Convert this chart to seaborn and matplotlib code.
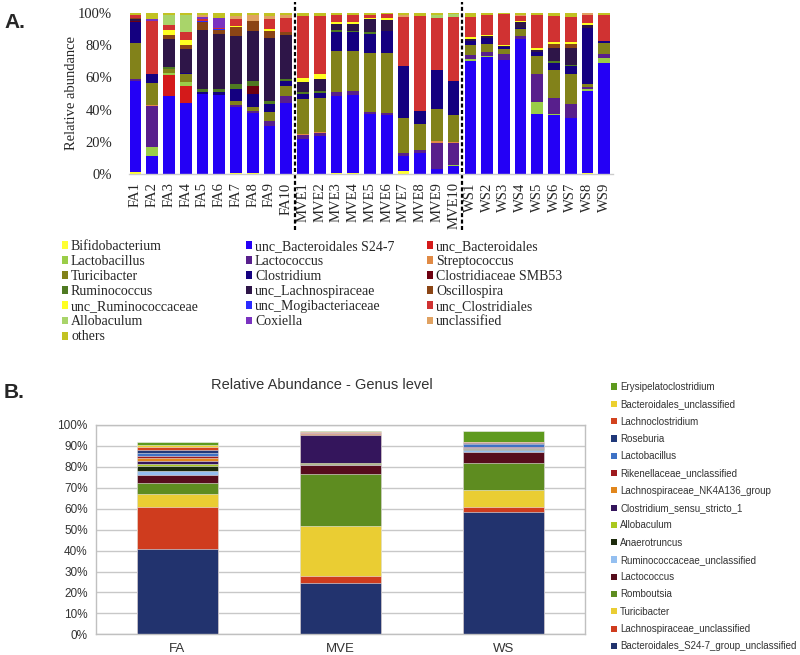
import numpy as np
import seaborn as sns
import matplotlib
matplotlib.use("Agg")
import matplotlib.pyplot as plt
from matplotlib.patches import Patch
from matplotlib.transforms import blended_transform_factory

# ---- panel A: relative abundance per sample (%), stacked bottom -> top
samples = ["FA1", "FA2", "FA3", "FA4", "FA5", "FA6", "FA7", "FA8", "FA9", "FA10",
           "MVE1", "MVE2", "MVE3", "MVE4", "MVE5", "MVE6", "MVE7", "MVE8", "MVE9", "MVE10",
           "WS1", "WS2", "WS3", "WS4", "WS5", "WS6", "WS7", "WS8", "WS9"]

taxa_a = ["Bifidobacterium", "unc_Bacteroidales S24-7", "unc_Bacteroidales",
          "Lactobacillus", "Lactococcus", "Streptococcus",
          "Turicibacter", "Clostridium", "Clostridiaceae SMB53",
          "Ruminococcus", "unc_Lachnospiraceae", "Oscillospira",
          "unc_Ruminococcaceae", "unc_Mogibacteriaceae", "unc_Clostridiales",
          "Allobaculum", "Coxiella", "unclassified",
          "others"]
colors_a = ["#ffff33", "#2400f5", "#d41a1a",
            "#9acd48", "#581f8c", "#e08a45",
            "#82821a", "#140080", "#6e0010",
            "#4f7a22", "#2e1548", "#8b4515",
            "#ffff22", "#2a2aff", "#d03232",
            "#a9d46a", "#7a32c0", "#e0a262",
            "#c2c222"]

bifido = [1, 0, 0.3, 0.3, 0, 0, 0.6, 0.5, 0, 0,
          0, 0, 0.5, 0.5, 0, 0, 2, 0, 0, 0,
          0, 0, 0, 0, 0, 0, 0, 0.5, 0]
s24_7 = [57, 11.4, 48.6, 43.5, 49.7, 48.6, 41, 37.3, 29.6, 44.1,
         22, 23.4, 48.2, 48.9, 37.3, 36.9, 9, 13, 3.3, 4.8,
         70.4, 72.7, 71.4, 83.4, 37.3, 36.9, 34.8, 50.7, 68.9]
unc_bact = [0, 0, 13, 10.5, 0, 0, 0, 0, 0, 0,
            0, 0, 0, 0, 0, 0, 0, 0, 0, 0,
            0, 0, 0, 0, 0, 0, 0, 0, 0]
lactobacillus = [0, 5.2, 1, 2.5, 0, 0, 0, 0, 0, 0,
                 0, 0, 0, 0, 0, 0, 0, 0, 0, 1,
                 1, 0.8, 0, 0, 7.5, 0.5, 0, 1, 2.7]
lactococcus = [1.5, 25.4, 0, 0, 0, 0, 1, 1.6, 3.5, 4.1,
               2.5, 2, 2.5, 2.5, 1, 1, 2, 2, 16.4, 13.5,
               2.7, 2.3, 3.7, 2, 17.4, 9.9, 8.9, 1.4, 2.9]
streptococcus = [0, 1, 0, 0, 0, 0, 0, 0, 0, 0,
                 0.5, 1, 0, 0, 0, 0, 0, 0, 1, 0.8,
                 0, 0, 0, 0, 0, 0, 0, 0, 0]
turicibacter = [22, 13.5, 2.5, 5, 0, 0, 2.5, 2.5, 5.2, 6.2,
                21.7, 20.7, 25.5, 24.8, 36.4, 37.9, 21.7, 16, 19.7, 16.8,
                5.8, 5, 3.1, 4.1, 11, 17.2, 19, 2, 6.8]
clostridium = [13.5, 5.8, 0.3, 1, 1.6, 2, 7.2, 8.3, 4.8, 3.1,
               3.5, 3.5, 11.8, 11.4, 12.2, 13.5, 32, 8.3, 24.8, 21.1,
               2.9, 3.7, 1, 1, 2.5, 4.6, 4.8, 34.4, 1.4]
smb53 = [0.5, 0, 0, 0, 0, 0, 0, 4.5, 0, 0,
         0, 0, 0, 0, 0, 0, 0, 0, 0, 0,
         0, 0, 0, 0, 0, 0, 0, 0, 0]
ruminococcus = [0, 0, 1, 0, 2, 1.7, 3, 3.3, 2, 1.4,
                1.2, 1, 1, 1, 1, 0.5, 0, 0, 0, 0,
                0, 0, 0, 0, 0, 1, 1, 0, 0]
unc_lachno = [1.5, 0, 17.6, 14.5, 36.6, 34, 30, 31.5, 39.3, 27.5,
              6.2, 7.2, 4.1, 4.5, 7.7, 6.6, 0, 0, 0, 0,
              1.2, 1, 1, 3.7, 1.2, 7.9, 10.4, 1.4, 0]
oscillospira = [0.5, 0, 2, 2.5, 4.8, 2.5, 5.2, 6.2, 4.1, 2,
                0, 0, 0, 0, 0, 0, 0, 0, 0, 0,
                0, 0, 0, 0, 0, 2.9, 2.7, 0, 0]
unc_rumino = [0, 0, 3.3, 3, 0, 0.5, 0.6, 0, 1.4, 0,
              2.5, 3.1, 1.2, 1, 1, 1, 0, 0, 0, 0,
              1, 1, 0.5, 0.8, 1, 1, 1, 1.4, 0]
unc_mogi = [0, 0, 0, 0, 0.5, 0.5, 0, 0, 0, 0,
            0, 0, 0, 0, 0, 0, 0, 0, 0, 0,
            0, 0, 0, 0, 0, 0, 0, 0, 0]
unc_clostridiales = [1.5, 33, 3.5, 5, 1.6, 0.5, 4.8, 0, 5.8, 8.3,
                     38.3, 36.2, 4.1, 4.1, 2, 2.9, 30.4, 58.6, 32.5, 39.8,
                     12.2, 12, 19.5, 2.7, 20.3, 16.1, 15.5, 4.8, 16.1]
allobaculum = [0, 0, 6.2, 11, 0, 0, 0, 0, 0, 0,
               0, 0, 0, 0, 0, 0, 0, 0, 2, 2,
               0, 0, 0, 0, 0, 0, 0, 0, 0]
coxiella = [0, 1, 0, 0, 1, 6.2, 0, 0, 0, 0,
            0, 0, 0, 0, 0, 0, 0, 0, 0, 0,
            0, 0, 0, 0, 0, 0, 0, 0, 0]
unclassified = [0, 0, 0, 0, 1.2, 0, 1.5, 3.3, 2, 1.7,
                0, 0, 0, 0, 0, 0, 1.2, 0, 0, 0,
                0, 0, 0, 1, 0, 0, 0, 1.4, 0]
others = [1.5, 3.7, 1, 1, 1.5, 3, 2, 1.5, 2, 1.5,
          2, 2, 1.5, 1.5, 1, 0.5, 1.5, 2, 1, 0.5,
          2.7, 1.5, 0.6, 1, 1.5, 2, 2.7, 0, 1]

# ---- panel B: mean relative abundance per group (%), stacked bottom -> top
groups = ["FA", "MVE", "WS"]
taxa_b = ["Bacteroidales_S24-7_group_unclassified", "Lachnospiraceae_unclassified",
          "Turicibacter", "Romboutsia", "Lactococcus", "Ruminococcaceae_unclassified",
          "Anaerotruncus", "Allobaculum", "Clostridium_sensu_stricto_1",
          "Lachnospiraceae_NK4A136_group", "Rikenellaceae_unclassified", "Lactobacillus",
          "Roseburia", "Lachnoclostridium", "Bacteroidales_unclassified",
          "Erysipelatoclostridium"]
colors_b = ["#22336e", "#cf3c1e", "#eacd33", "#5e8c20", "#560c1c", "#94bff0",
            "#1c2a0c", "#aac81e", "#34155c", "#e1861c", "#9e1a1e", "#3e72c6",
            "#203879", "#d2421e", "#ecd02f", "#5e9a1e"]
genus_b = [
    [40.8, 24.7, 58.6],   # Bacteroidales_S24-7_group_unclassified
    [20.2, 3.3, 2.1],     # Lachnospiraceae_unclassified
    [5.9, 23.9, 8.3],     # Turicibacter
    [5.3, 24.7, 12.7],    # Romboutsia
    [3.8, 4.3, 5.6],      # Lactococcus
    [2.2, 0.2, 0.8],      # Ruminococcaceae_unclassified
    [2.0, 0.1, 0.2],      # Anaerotruncus
    [1.3, 0.6, 0.2],      # Allobaculum
    [1.5, 13.5, 0.5],     # Clostridium_sensu_stricto_1
    [1.2, 0.2, 0.2],      # Lachnospiraceae_NK4A136_group
    [1.2, 0.6, 0.3],      # Rikenellaceae_unclassified
    [1.4, 0.1, 1.3],      # Lactobacillus
    [1.2, 0.1, 0.8],      # Roseburia
    [1.4, 0.2, 0.2],      # Lachnoclostridium
    [1.2, 0.1, 0.1],      # Bacteroidales_unclassified
    [1.2, 0.4, 5.1],      # Erysipelatoclostridium
]

sns.set_style("white")
plt.rcParams["font.family"] = ["Liberation Serif", "DejaVu Serif"]

fig = plt.figure(figsize=(8, 6.55), dpi=100)
W, H = 800, 655

# ================= panel A =================
ax1 = fig.add_axes([128.8 / W, 1 - 174 / H, 483.9 / W, 161 / H])

abund_a = np.array([bifido, s24_7, unc_bact, lactobacillus, lactococcus, streptococcus,
                    turicibacter, clostridium, smb53, ruminococcus, unc_lachno, oscillospira,
                    unc_rumino, unc_mogi, unc_clostridiales, allobaculum, coxiella,
                    unclassified, others], dtype=float)
abund_a = abund_a / abund_a.sum(axis=0) * 100
cum_a = np.cumsum(abund_a, axis=0)

# draw from the top layer down so each lower layer covers the one above
for i in range(len(taxa_a) - 1, -1, -1):
    sns.barplot(x=samples, y=cum_a[i], color=colors_a[i], saturation=1,
                width=0.7, linewidth=0, errorbar=None, ax=ax1)

ax1.set_xlim(-0.4, 28.5)
ax1.set_ylim(0, 100)
ax1.set_yticks([0, 20, 40, 60, 80, 100])
ax1.set_yticklabels([f"{v}%" for v in [0, 20, 40, 60, 80, 100]], fontsize=10.5)
ax1.set_xticks(range(len(samples)))
ax1.set_xticklabels(samples, rotation=90, fontsize=10.5)
ax1.tick_params(axis="x", length=0, pad=6)
ax1.tick_params(axis="y", length=0, pad=12)
ax1.set_xlabel("")
ax1.set_ylabel("Relative abundance", fontsize=10.5)
ax1.yaxis.set_label_coords(-0.105, 0.5)
for s in ["left", "top", "right"]:
    ax1.spines[s].set_visible(False)
ax1.spines["bottom"].set_color("#cccccc")
ax1.spines["bottom"].set_linewidth(1)

# dashed separators between groups
trans = blended_transform_factory(ax1.transData, ax1.transAxes)
for xs in [9.5, 19.5]:
    ax1.plot([xs, xs], [-0.35, 1.07], transform=trans, clip_on=False,
             color="black", lw=1.6, dashes=(1.8, 1.1))

# legend: three columns, read row by row
col_x = [62, 246, 427]
for c in range(3):
    idx = [i for i in range(len(taxa_a)) if i % 3 == c]
    leg = fig.legend([Patch(facecolor=colors_a[i], edgecolor="none") for i in idx],
                     [taxa_a[i] for i in idx], loc="upper left",
                     bbox_to_anchor=(col_x[c] / W, 1 - 240 / H), frameon=False,
                     prop={"family": ["Liberation Serif"], "size": 10},
                     handlelength=0.45, handleheight=0.5, handletextpad=0.2,
                     labelspacing=0.15, borderpad=0, borderaxespad=0)

fig.text(4 / W, 1 - 22 / H, "A.", fontsize=15, fontweight="bold",
         family=["Liberation Sans"], va="center", ha="left")

# ================= panel B =================
sans = ["Liberation Sans", "DejaVu Sans"]
ax2 = fig.add_axes([96 / W, 1 - 634.3 / H, 489 / W, 209.3 / H])

abund_b = np.array(genus_b, dtype=float)
cum_b = np.cumsum(abund_b, axis=0)
for i in range(len(taxa_b) - 1, -1, -1):
    sns.barplot(x=groups, y=cum_b[i], color=colors_b[i], saturation=1,
                width=0.5, linewidth=0.4, edgecolor="#eeeeee", errorbar=None, ax=ax2)

ax2.set_xlim(-0.5, 2.5)
ax2.set_ylim(0, 100)
yt = np.arange(0, 101, 10)
ax2.set_yticks(yt)
ax2.set_yticklabels([f"{v}%" for v in yt], fontsize=8.5, family=sans, color="#333333")
ax2.set_xticks([0, 1, 2])
ax2.set_xticklabels(groups, fontsize=9.5, family=sans, color="#333333")
ax2.set_xticks([0.5, 1.5], minor=True)
ax2.tick_params(axis="x", which="major", length=0, pad=6)
ax2.tick_params(axis="x", which="minor", length=3, width=1, color="#c0c0c0", direction="out")
ax2.tick_params(axis="y", length=0, pad=6)
ax2.set_xlabel("")
ax2.set_ylabel("")
ax2.yaxis.grid(True, color="#c8c8c8", lw=1)
ax2.set_axisbelow(True)
for s in ax2.spines.values():
    s.set_color("#c0c0c0")
    s.set_linewidth(1)

fig.text(322 / W, 1 - 385 / H, "Relative Abundance - Genus level", fontsize=10.5,
         family=sans, color="#333333", ha="center", va="center")
fig.text(4 / W, 1 - 393 / H, "B.", fontsize=15, fontweight="bold",
         family=["Liberation Sans"], va="center", ha="left")

handles_b = [Patch(facecolor=c, edgecolor="none") for c in colors_b][::-1]
labels_b = taxa_b[::-1]
fig.legend(handles_b, labels_b, loc="upper left", bbox_to_anchor=(611 / W, 1 - 382 / H),
           frameon=False, prop={"family": ["Liberation Sans"], "size": 7},
           labelcolor="#333333", handlelength=0.6, handleheight=0.6, handletextpad=0.35,
           labelspacing=0.75, borderpad=0, borderaxespad=0)

fig.savefig("out.png", dpi=100)
